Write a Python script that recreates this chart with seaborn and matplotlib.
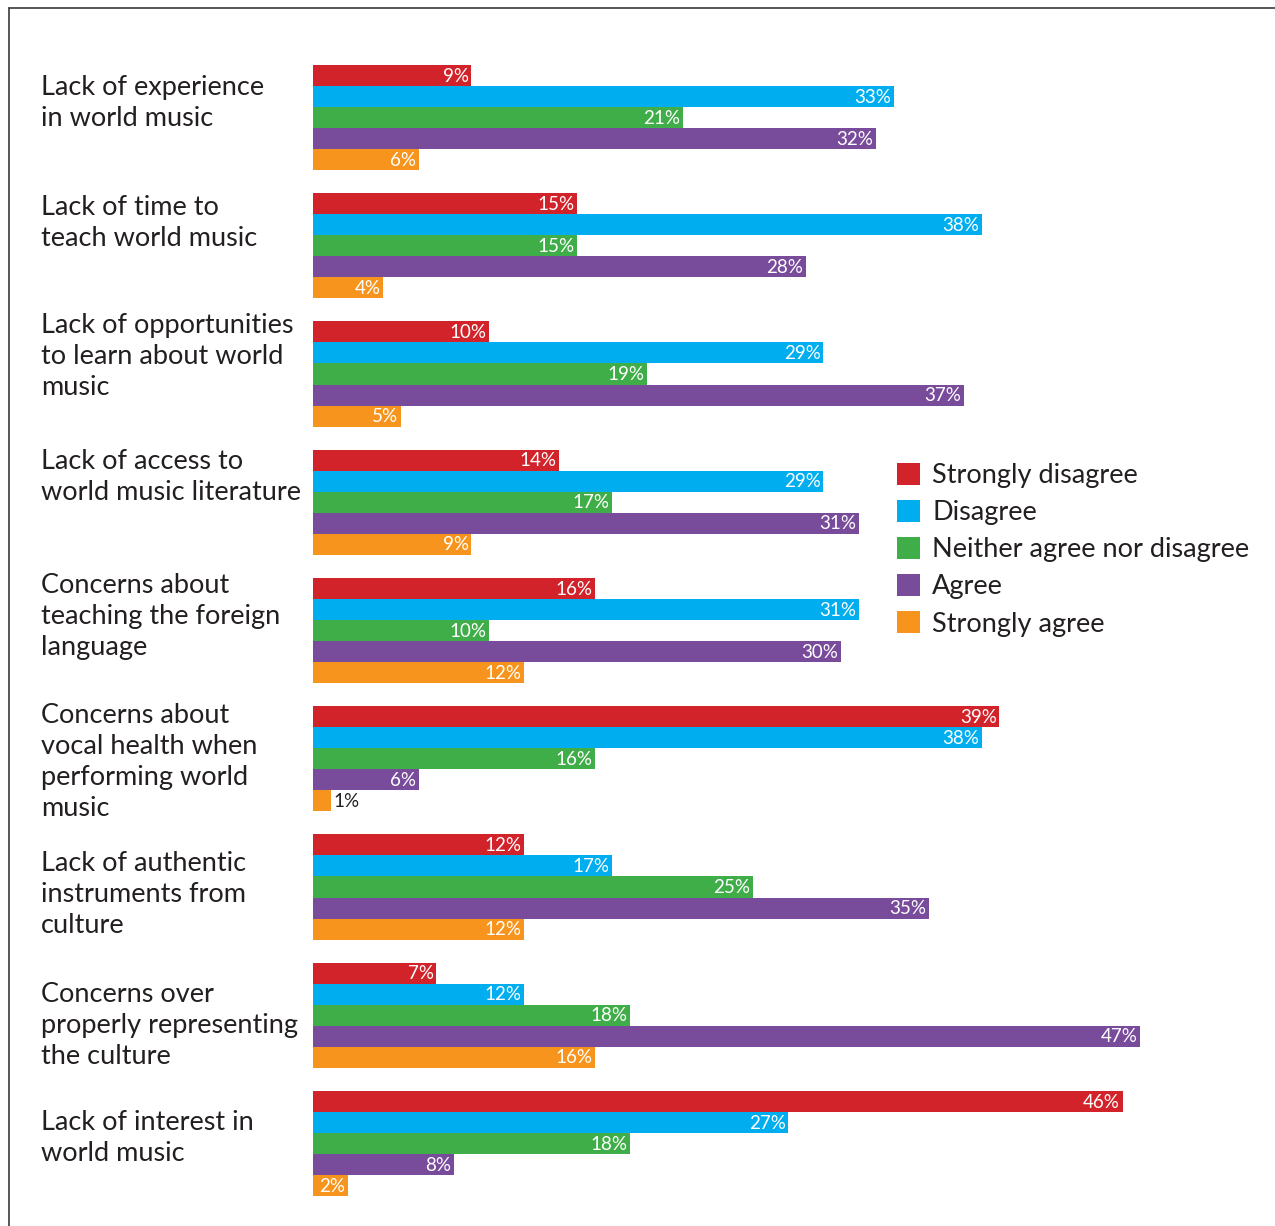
import pandas as pd
import matplotlib.pyplot as plt
import matplotlib.lines as mlines
import seaborn as sns

# Data
barriers = [
    "Lack of experience\nin world music",
    "Lack of time to\nteach world music",
    "Lack of opportunities\nto learn about world\nmusic",
    "Lack of access to\nworld music literature",
    "Concerns about\nteaching the foreign\nlanguage",
    "Concerns about\nvocal health when\nperforming world\nmusic",
    "Lack of authentic\ninstruments from\nculture",
    "Concerns over\nproperly representing\nthe culture",
    "Lack of interest in\nworld music",
]
responses = ["Strongly disagree", "Disagree", "Neither agree nor disagree",
             "Agree", "Strongly agree"]
strongly_disagree = [9, 15, 10, 14, 16, 39, 12, 7, 46]
disagree = [33, 38, 29, 29, 31, 38, 17, 12, 27]
neither = [21, 15, 19, 17, 10, 16, 25, 18, 18]
agree = [32, 28, 37, 31, 30, 6, 35, 47, 8]
strongly_agree = [6, 4, 5, 9, 12, 1, 12, 16, 2]

colors = ["#D2232A", "#00AEEF", "#3FAE49", "#784B9B", "#F7941D"]
text_color = "#231F20"

rows = []
for resp, vals in zip(responses, [strongly_disagree, disagree, neither, agree, strongly_agree]):
    for b, v in zip(barriers, vals):
        rows.append({"barrier": b, "response": resp, "pct": v})
df = pd.DataFrame(rows)

sns.set_style("white")
plt.rcParams['font.family'] = ['Lato', 'DejaVu Sans']

W, H = 1275, 1226
fig = plt.figure(figsize=(W / 100, H / 100), dpi=100)

# axes placed in pixel terms: 0% at x=313, ~17.6 px per percent
px_per_pct = 17.6
x0 = 313
xmax = 53
top_px, bot_px = 53.4, 1207.6
ax = fig.add_axes([x0 / W, 1 - bot_px / H, xmax * px_per_pct / W, (bot_px - top_px) / H])

sns.barplot(data=df, y="barrier", x="pct", hue="response", hue_order=responses,
            order=barriers, orient="h", palette=colors, width=0.82,
            linewidth=0, saturation=1, errorbar=None, ax=ax)
ax.set_xlim(0, xmax)
ax.set_ylim(len(barriers) - 0.5, -0.5)

handles, labels = ax.get_legend_handles_labels()
if ax.get_legend() is not None:
    ax.get_legend().remove()

# value labels inside bar ends (too-short bars get the label just outside)
for cont in ax.containers:
    for bar in cont:
        w = bar.get_width()
        yc = bar.get_y() + bar.get_height() / 2 + 0.005
        if w < 1.5:
            ax.text(w + 0.15, yc, f"{int(round(w))}%", ha="left", va="center",
                    color=text_color, fontsize=13.5)
        else:
            ax.text(w - 0.15, yc, f"{int(round(w))}%", ha="right", va="center",
                    color="white", fontsize=13.5)

ax.axis("off")

# category labels on the left (pixel shifts to follow the original layout)
label_shift = [-15, -23, -18, -25, -14, 3, 8, 10, -5]
spacing = (bot_px - top_px) / len(barriers)
for i, (lab, sh) in enumerate(zip(barriers, label_shift)):
    yc = top_px + spacing * (i + 0.5) + sh
    fig.text(41 / W, 1 - yc / H, lab, ha="left", va="center", fontsize=19.5,
             color=text_color, linespacing=1.3)

fig.legend(handles, labels, loc="upper left", bbox_to_anchor=(897 / W, 1 - 463 / H),
           frameon=False, fontsize=19.5, handlelength=0.85, handleheight=0.85,
           handletextpad=0.45, labelspacing=0.44, borderpad=0, borderaxespad=0,
           labelcolor=text_color)

# frame lines (left and top)
fig.add_artist(mlines.Line2D([9 / W, 9 / W], [0, 1 - 8 / H], color="#3a3a3a", lw=1.2))
fig.add_artist(mlines.Line2D([9 / W, 1], [1 - 8 / H, 1 - 8 / H], color="#3a3a3a", lw=1.2))

fig.savefig("out.png", dpi=100)
